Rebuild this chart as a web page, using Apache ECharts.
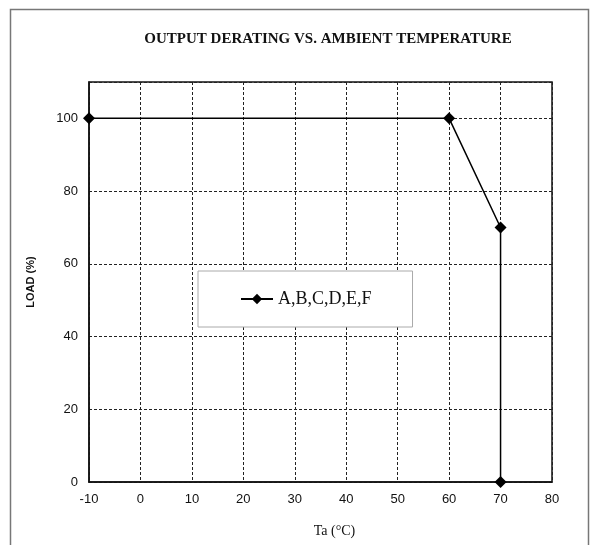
<!DOCTYPE html>
<html>
<head>
<meta charset="utf-8">
<script src="https://cdn.jsdelivr.net/npm/echarts@6/dist/echarts.min.js"></script>
<style>
  html, body { margin: 0; padding: 0; background: #fff; }
  #chart { width: 590px; height: 545px; }
</style>
</head>
<body>
<div id="chart"></div>
<script>
// data
var seriesName = 'A,B,C,D,E,F';
var temps = [-10, 60, 70, 70];
var loads = [100, 100, 70, 0];

var points = [];
for (var i = 0; i < temps.length; i = i + 1) {
    points.push([temps[i], loads[i]]);
}

var chart = echarts.init(document.getElementById('chart'));
chart.setOption({
    animation: false,
    backgroundColor: '#fff',
    title: {
        text: 'OUTPUT DERATING VS. AMBIENT TEMPERATURE',
        left: 323,
        textAlign: 'center',
        top: 27,
        textStyle: {
            fontFamily: 'Liberation Serif',
            fontWeight: 'bold',
            fontSize: 15,
            color: '#111'
        }
    },
    graphic: [{
        type: 'rect',
        shape: { x: 10.5, y: 9.5, width: 578, height: 560 },
        style: { fill: 'none', stroke: '#777', lineWidth: 1.5 },
        silent: true
    }],
    legend: {
        data: [seriesName],
        left: 198,
        top: 271,
        padding: [19, 41, 19, 42],
        backgroundColor: '#fff',
        borderColor: '#aaa',
        borderWidth: 1,
        itemWidth: 32,
        itemHeight: 13,
        itemGap: 4,
        textStyle: {
            fontFamily: 'Liberation Serif',
            fontSize: 18,
            color: '#111'
        }
    },
    grid: {
        left: 89,
        right: 38,
        top: 82,
        bottom: 63,
        show: true,
        borderColor: '#111',
        borderWidth: 1.5
    },
    xAxis: {
        type: 'value',
        min: -10,
        max: 80,
        interval: 10,
        name: 'Ta (°C)',
        nameLocation: 'middle',
        nameGap: 42,
        nameTextStyle: {
            fontFamily: 'Liberation Serif',
            fontSize: 14,
            color: '#111',
            padding: [0, 0, 0, 28]
        },
        axisLine: { show: true, onZero: false, lineStyle: { color: '#111', width: 1.5 } },
        axisTick: { show: false },
        axisLabel: {
            margin: 11,
            fontFamily: 'Liberation Sans',
            fontSize: 13,
            color: '#111'
        },
        splitLine: {
            show: true,
            lineStyle: { color: '#222', type: [3, 2], width: 1 }
        }
    },
    yAxis: {
        type: 'value',
        min: 0,
        max: 110,
        interval: 20,
        name: 'LOAD (%)',
        nameLocation: 'middle',
        nameGap: 53,
        nameTextStyle: {
            fontFamily: 'Liberation Sans',
            fontWeight: 'bold',
            fontSize: 11,
            color: '#111'
        },
        axisLine: { show: true, onZero: false, lineStyle: { color: '#111', width: 1.5 } },
        axisTick: { show: false },
        axisLabel: {
            margin: 11,
            fontFamily: 'Liberation Sans',
            fontSize: 13,
            color: '#111',
            formatter: function (v) {
                return v > 100 ? '' : v;
            }
        },
        splitLine: {
            show: true,
            lineStyle: { color: '#222', type: [3, 2], width: 1 }
        }
    },
    series: [{
        name: seriesName,
        type: 'line',
        data: points,
        symbol: 'diamond',
        symbolSize: 12,
        showAllSymbol: true,
        lineStyle: { color: '#000', width: 1.5 },
        itemStyle: { color: '#000' },
        z: 5
    }]
});
</script>
</body>
</html>
